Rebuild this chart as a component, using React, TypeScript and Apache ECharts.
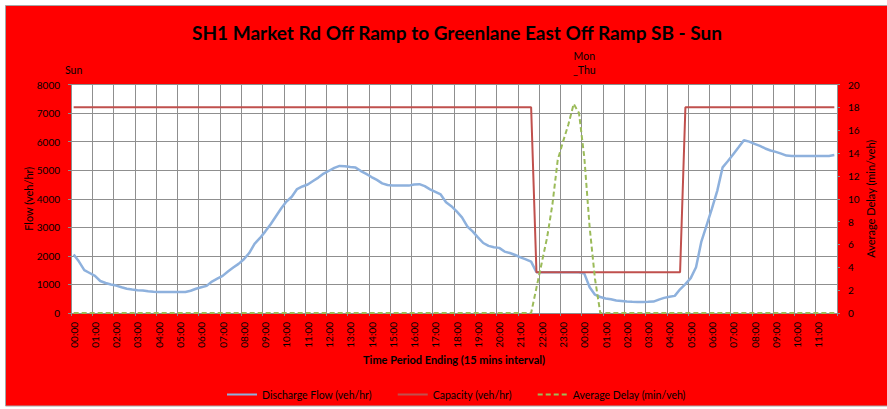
import React, { useEffect, useRef } from "react";
import * as echarts from "echarts";

const titleText = "SH1 Market Rd Off Ramp to Greenlane East Off Ramp SB - Sun";

const hourLabels = [
  "00:00", "01:00", "02:00", "03:00", "04:00", "05:00", "06:00", "07:00", "08:00", "09:00", "10:00", "11:00",
  "12:00", "13:00", "14:00", "15:00", "16:00", "17:00", "18:00", "19:00", "20:00", "21:00", "22:00", "23:00",
  "00:00", "01:00", "02:00", "03:00", "04:00", "05:00", "06:00", "07:00", "08:00", "09:00", "10:00", "11:00",
];
const quarterSuffixes = [":00", ":15", ":30", ":45"];

const dayLabels: Record<number, string> = { 0: "Sun", 96: "Mon\n_Thu" };

const flow = [
  2050, 1800, 1500, 1400, 1300, 1120, 1050, 1000, 960, 900, 850, 820,
  800, 790, 760, 740, 735, 735, 735, 735, 735, 735, 780, 850,
  900, 950, 1100, 1200, 1300, 1450, 1590, 1720, 1880, 2100, 2420, 2620,
  2850, 3100, 3380, 3660, 3900, 4070, 4340, 4430, 4500, 4620, 4740, 4880,
  4980, 5080, 5150, 5140, 5110, 5090, 4970, 4870, 4760, 4660, 4540, 4480,
  4460, 4460, 4460, 4460, 4500, 4510, 4440, 4330, 4240, 4150, 3880, 3740,
  3560, 3350, 3030, 2860, 2650, 2450, 2350, 2300, 2280, 2150, 2100, 2030,
  1950, 1880, 1800, 1425, 1425, 1425, 1425, 1425, 1425, 1425, 1425, 1425,
  1380, 900, 640, 560, 510, 480, 440, 420, 400, 390, 385, 385,
  390, 400, 470, 530, 570, 600, 830, 1010, 1220, 1600, 2500, 3080,
  3660, 4285, 5100, 5320, 5560, 5800, 6050, 6000, 5920, 5850, 5760, 5690,
  5640, 5580, 5510, 5500, 5500, 5500, 5500, 5500, 5500, 5500, 5500, 5530,
];

const capacity = [
  7200, 7200, 7200, 7200, 7200, 7200, 7200, 7200, 7200, 7200, 7200, 7200,
  7200, 7200, 7200, 7200, 7200, 7200, 7200, 7200, 7200, 7200, 7200, 7200,
  7200, 7200, 7200, 7200, 7200, 7200, 7200, 7200, 7200, 7200, 7200, 7200,
  7200, 7200, 7200, 7200, 7200, 7200, 7200, 7200, 7200, 7200, 7200, 7200,
  7200, 7200, 7200, 7200, 7200, 7200, 7200, 7200, 7200, 7200, 7200, 7200,
  7200, 7200, 7200, 7200, 7200, 7200, 7200, 7200, 7200, 7200, 7200, 7200,
  7200, 7200, 7200, 7200, 7200, 7200, 7200, 7200, 7200, 7200, 7200, 7200,
  7200, 7200, 7200, 1425, 1425, 1425, 1425, 1425, 1425, 1425, 1425, 1425,
  1425, 1425, 1425, 1425, 1425, 1425, 1425, 1425, 1425, 1425, 1425, 1425,
  1425, 1425, 1425, 1425, 1425, 1425, 1425, 7200, 7200, 7200, 7200, 7200,
  7200, 7200, 7200, 7200, 7200, 7200, 7200, 7200, 7200, 7200, 7200, 7200,
  7200, 7200, 7200, 7200, 7200, 7200, 7200, 7200, 7200, 7200, 7200, 7200,
];

const delay = [
  0, 0, 0, 0, 0, 0, 0, 0, 0, 0, 0, 0,
  0, 0, 0, 0, 0, 0, 0, 0, 0, 0, 0, 0,
  0, 0, 0, 0, 0, 0, 0, 0, 0, 0, 0, 0,
  0, 0, 0, 0, 0, 0, 0, 0, 0, 0, 0, 0,
  0, 0, 0, 0, 0, 0, 0, 0, 0, 0, 0, 0,
  0, 0, 0, 0, 0, 0, 0, 0, 0, 0, 0, 0,
  0, 0, 0, 0, 0, 0, 0, 0, 0, 0, 0, 0,
  0, 0, 0, 2.2, 4.4, 6.6, 9.5, 13.4, 15.0, 16.5, 18.3, 17.5,
  13.6, 7.5, 3.0, 0, 0, 0, 0, 0, 0, 0, 0, 0,
  0, 0, 0, 0, 0, 0, 0, 0, 0, 0, 0, 0,
  0, 0, 0, 0, 0, 0, 0, 0, 0, 0, 0, 0,
  0, 0, 0, 0, 0, 0, 0, 0, 0, 0, 0, 0,
];

const seriesNames = ["Discharge Flow (veh/hr)", "Capacity (veh/hr)", "Average Delay (min/veh)"];

const FONT = "Lato";
const GRID_COLOR = "#8f8f8f";

export default function App() {
  const ref = useRef<HTMLDivElement>(null);

  useEffect(() => {
    if (!ref.current) return;
    const chart = echarts.init(ref.current, null, { renderer: "svg" });
    const categories = hourLabels.flatMap((h, hi) =>
      quarterSuffixes.map((q) => `${hi}|${h.slice(0, 2)}${q}`)
    );

    const option: any = {
      animation: false,
      backgroundColor: "#ffffff",
      textStyle: { fontFamily: FONT, color: "#000" },
      graphic: [
        {
          type: "rect",
          z: -100,
          silent: true,
          shape: { x: 5.5, y: 5.5, width: 890, height: 400.5 },
          style: { fill: "#ff0000", stroke: "#a6a6a6", lineWidth: 1 },
        },
      ],
      title: {
        text: titleText,
        left: 452,
        textAlign: "center",
        top: 18,
        textStyle: { fontFamily: FONT, fontSize: 19, fontWeight: "bold", color: "#000" },
      },
      legend: {
        left: 221,
        top: 384,
        itemWidth: 30,
        itemHeight: 10,
        itemGap: 25,
        data: seriesNames,
        itemStyle: { opacity: 0 },
        textStyle: { fontFamily: FONT, fontSize: 10.5, color: "#000" },
      },
      grid: {
        left: 71,
        right: 50,
        top: 84.5,
        bottom: 96,
        show: true,
        backgroundColor: "#ffffff",
        borderWidth: 0,
      },
      xAxis: [
        {
          type: "category",
          position: "bottom",
          data: categories,
          boundaryGap: true,
          name: "Time Period Ending (15 mins interval)",
          nameLocation: "middle",
          nameGap: 41,
          nameMoveOverlap: false,
          nameTextStyle: { fontFamily: FONT, fontSize: 11, fontWeight: "bold", color: "#000" },
          axisLine: { show: true, lineStyle: { color: GRID_COLOR, width: 1 } },
          axisTick: { show: true, interval: 3, length: 3, inside: false, lineStyle: { color: GRID_COLOR } },
          splitLine: { show: true, interval: 3, lineStyle: { color: GRID_COLOR, width: 1 } },
          axisLabel: {
            interval: 3,
            rotate: 90,
            margin: 9,
            fontFamily: FONT,
            fontSize: 10,
            color: "#000",
            formatter: (v: string) => v.split("|")[1],
          },
        },
        {
          type: "category",
          position: "top",
          data: categories,
          boundaryGap: true,
          axisLine: { show: false },
          axisTick: {
            show: true,
            length: 4,
            interval: (i: number) => dayLabels[i] !== undefined,
            lineStyle: { color: GRID_COLOR },
          },
          splitLine: { show: false },
          axisLabel: {
            interval: (i: number) => dayLabels[i] !== undefined,
            margin: 8,
            fontFamily: FONT,
            fontSize: 10.5,
            lineHeight: 14,
            color: "#000",
            formatter: (_v: string, i: number) => dayLabels[i] ?? "",
          },
        },
      ],
      yAxis: [
        {
          type: "value",
          min: 0,
          max: 8000,
          interval: 1000,
          name: "Flow (veh/hr)",
          nameLocation: "middle",
          nameRotate: 90,
          nameGap: 37,
          nameMoveOverlap: false,
          nameTextStyle: { fontFamily: FONT, fontSize: 11, color: "#000" },
          axisLine: { show: true, lineStyle: { color: GRID_COLOR } },
          axisTick: { show: true, length: 3, lineStyle: { color: GRID_COLOR } },
          splitLine: { show: true, lineStyle: { color: GRID_COLOR, width: 1 } },
          axisLabel: {
            margin: 11,
            fontFamily: FONT,
            fontSize: 10,
            color: "#000",
            formatter: (v: number) => String(v),
          },
        },
        {
          type: "value",
          position: "right",
          min: 0,
          max: 20,
          interval: 2,
          name: "Average Delay (min/veh)",
          nameLocation: "middle",
          nameRotate: 90,
          nameGap: 28,
          nameMoveOverlap: false,
          nameTextStyle: { fontFamily: FONT, fontSize: 11, color: "#000" },
          axisLine: { show: true, lineStyle: { color: GRID_COLOR } },
          axisTick: { show: true, length: 3, lineStyle: { color: GRID_COLOR } },
          splitLine: { show: false },
          axisLabel: {
            margin: 11,
            fontFamily: FONT,
            fontSize: 10,
            color: "#000",
            formatter: (v: number) => String(v),
          },
        },
      ],
      series: [
        {
          name: seriesNames[0],
          type: "line",
          data: flow,
          xAxisIndex: 0,
          yAxisIndex: 0,
          symbol: "none",
          lineStyle: { color: "#8eb1dd", width: 2.5 },
          itemStyle: { color: "#8eb1dd" },
          z: 2,
        },
        {
          name: seriesNames[1],
          type: "line",
          data: capacity,
          xAxisIndex: 0,
          yAxisIndex: 0,
          symbol: "none",
          lineStyle: { color: "#c0504d", width: 2 },
          itemStyle: { color: "#c0504d" },
          z: 3,
        },
        {
          name: seriesNames[2],
          type: "line",
          data: delay,
          xAxisIndex: 0,
          yAxisIndex: 1,
          symbol: "none",
          lineStyle: { color: "#9bbb59", width: 2, type: [5, 3] },
          itemStyle: { color: "#9bbb59" },
          z: 4,
        },
      ],
    };

    chart.setOption(option);
    return () => chart.dispose();
  }, []);

  return (
    <div
      ref={ref}
      style={{ position: "fixed", left: 0, top: 0, width: 887, height: 409 }}
    />
  );
}
